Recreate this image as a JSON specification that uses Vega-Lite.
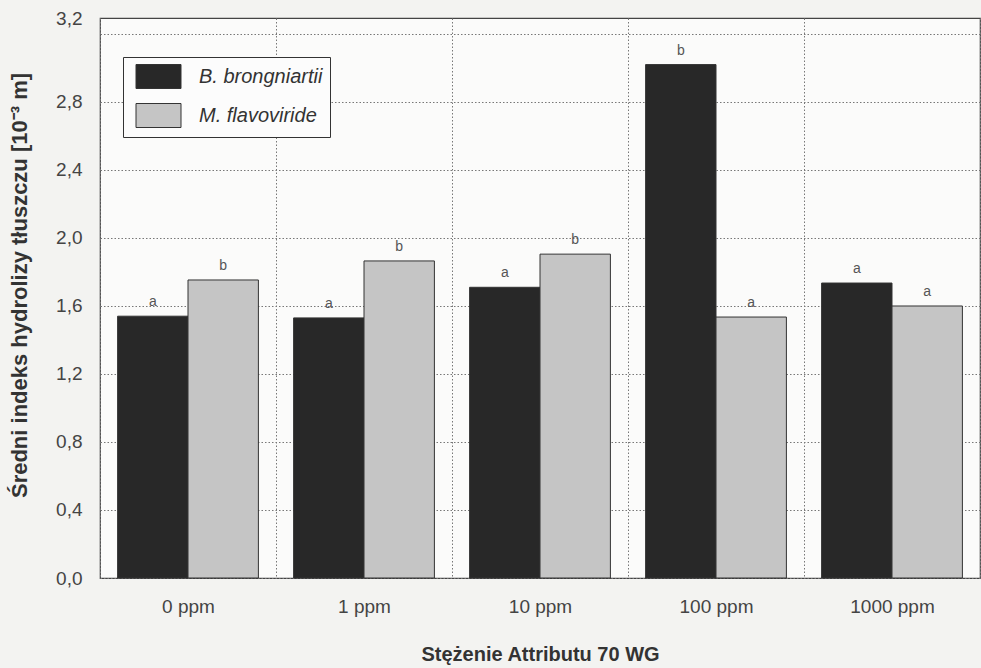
{
  "$schema": "https://vega.github.io/schema/vega-lite/v6.json",
  "width": 880,
  "height": 560,
  "autosize": {"type": "none"},
  "padding": {"left": 100, "top": 18, "right": 1, "bottom": 90},
  "background": "#f3f3f1",
  "config": {
    "font": "Liberation Sans",
    "view": {"stroke": "#444", "strokeWidth": 1.2, "fill": "#fbfbfa"}
  },
  "data": {
    "values": [
      {"conc": "0 ppm", "species": "B. brongniartii", "value": 1.54, "letter": "a"},
      {"conc": "0 ppm", "species": "M. flavoviride", "value": 1.753, "letter": "b"},
      {"conc": "1 ppm", "species": "B. brongniartii", "value": 1.53, "letter": "a"},
      {"conc": "1 ppm", "species": "M. flavoviride", "value": 1.865, "letter": "b"},
      {"conc": "10 ppm", "species": "B. brongniartii", "value": 1.71, "letter": "a"},
      {"conc": "10 ppm", "species": "M. flavoviride", "value": 1.905, "letter": "b"},
      {"conc": "100 ppm", "species": "B. brongniartii", "value": 3.02, "letter": "b"},
      {"conc": "100 ppm", "species": "M. flavoviride", "value": 1.535, "letter": "a"},
      {"conc": "1000 ppm", "species": "B. brongniartii", "value": 1.735, "letter": "a"},
      {"conc": "1000 ppm", "species": "M. flavoviride", "value": 1.6, "letter": "a"}
    ]
  },
  "encoding": {
    "x": {
      "field": "conc", "type": "nominal", "sort": null,
      "scale": {"paddingInner": 0, "paddingOuter": 0},
      "axis": {
        "title": "Stężenie Attributu 70 WG",
        "labelAngle": 0, "tickBand": "extent", "grid": true,
        "gridDash": [1.5, 2], "gridColor": "#777", "gridWidth": 1,
        "ticks": false, "domain": false,
        "labelFontSize": 19, "labelColor": "#444", "labelPadding": 19,
        "titleFontSize": 20, "titleFontWeight": "bold", "titleColor": "#333",
        "titlePadding": 28
      }
    },
    "xOffset": {
      "field": "species", "type": "nominal",
      "scale": {"paddingInner": 0, "paddingOuter": 0.25}
    },
    "y": {
      "field": "value", "type": "quantitative",
      "scale": {"domain": [0, 3.294], "nice": false, "zero": true},
      "axis": {
        "title": "Średni indeks hydrolizy tłuszczu [10⁻³ m]",
        "values": [0, 0.4, 0.8, 1.2, 1.6, 2.0, 2.4, 2.8, 3.2],
        "labelExpr": "replace(format(datum.value, '.1f'), '.', ',')",
        "labelOffset": {"condition": {"test": "datum.value > 3.1", "value": -15}, "value": 0},
        "grid": true, "gridDash": [1.5, 2], "gridColor": "#777", "gridWidth": 1,
        "ticks": false, "domain": false,
        "labelFontSize": 19, "labelColor": "#444", "labelPadding": 18,
        "titleFontSize": 22, "titleFontWeight": "bold", "titleColor": "#333",
        "titlePadding": 24, "titleY": 267
      }
    }
  },
  "layer": [
    {
      "mark": {"type": "bar", "stroke": "#333", "strokeWidth": 1},
      "encoding": {
        "color": {
          "field": "species", "type": "nominal",
          "scale": {"range": ["#282828", "#c5c5c5"]},
          "legend": {
            "title": null, "orient": "none", "legendX": 23, "legendY": 39,
            "fillColor": "#fcfcfc", "strokeColor": "#333", "padding": 7,
            "symbolType": "M-1.875,-1H1.875V1H-1.875Z", "symbolSize": 576,
            "symbolStrokeColor": "#333", "symbolStrokeWidth": 1, "symbolOpacity": 1,
            "symbolOffset": 16, "labelOffset": 28, "labelLimit": 400,
            "labelFontStyle": "italic", "labelFontSize": 20, "labelColor": "#333",
            "rowPadding": 10
          }
        }
      }
    },
    {
      "mark": {"type": "text", "baseline": "alphabetic", "dy": -10, "fontSize": 14, "color": "#555"},
      "encoding": {"text": {"field": "letter"}}
    }
  ]
}
